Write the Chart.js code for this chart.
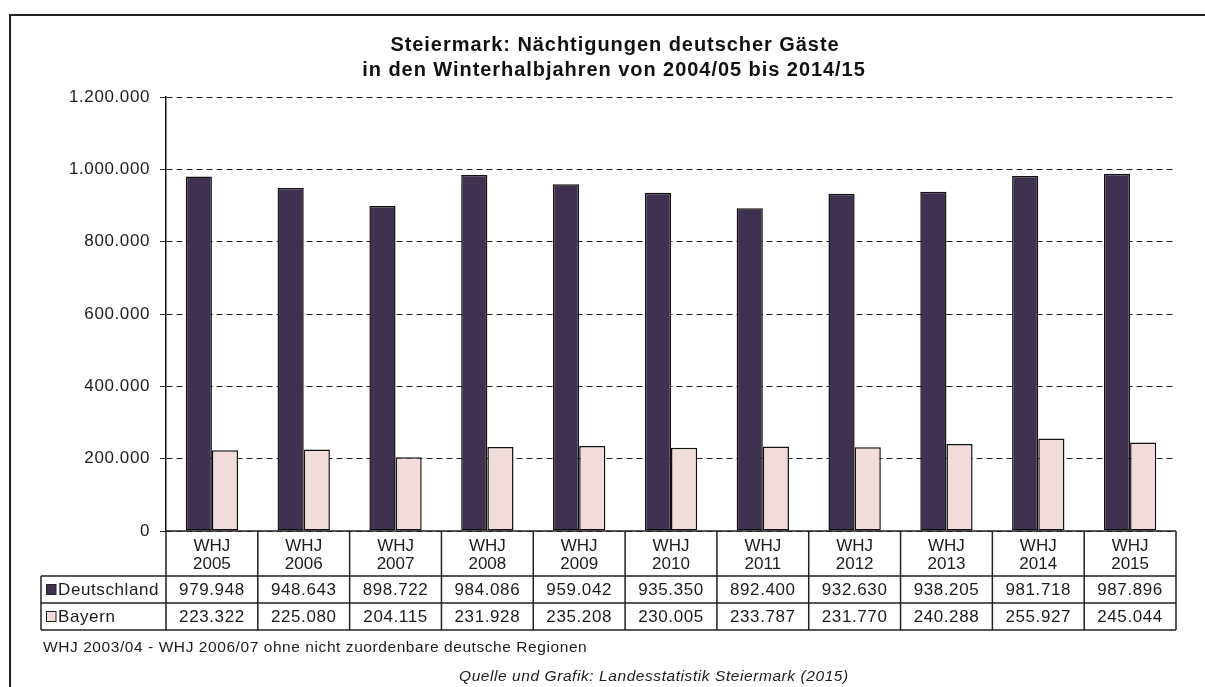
<!DOCTYPE html>
<html>
<head>
<meta charset="utf-8">
<script src="https://cdn.jsdelivr.net/npm/chart.js@4.4.1/dist/chart.umd.min.js"></script>
<style>
html,body{margin:0;padding:0;background:#fff;}
#wrap{width:1205px;height:687px;position:relative;}
</style>
</head>
<body>
<div id="wrap"><canvas id="c" width="1205" height="687"></canvas></div>
<script>
const categories = ["2005","2006","2007","2008","2009","2010","2011","2012","2013","2014","2015"];
const categoryPrefix = "WHJ";
const deutschland = [979948, 948643, 898722, 984086, 959042, 935350, 892400, 932630, 938205, 981718, 987896];
const bayern = [223322, 225080, 204115, 231928, 235208, 230005, 233787, 231770, 240288, 255927, 245044];
const seriesNames = ["Deutschland", "Bayern"];
const yTicks = [0, 200000, 400000, 600000, 800000, 1000000, 1200000];
const titleLines = ["Steiermark: Nächtigungen deutscher Gäste", "in den Winterhalbjahren von 2004/05 bis 2014/15"];
const footnote = "WHJ 2003/04 - WHJ 2006/07 ohne nicht zuordenbare deutsche Regionen";
const sourceText = "Quelle und Grafik: Landesstatistik Steiermark (2015)";

const colD = "#3f3150";
const colB = "#f2dcdb";
const ink = "#1c1c1c";
const FONT = "'Liberation Sans', Arial, sans-serif";

function fmt(v){
  return String(Math.round(v)).replace(/\B(?=(\d{3})+(?!\d))/g, ".");
}

const framePlugin = {
  id: 'frame',
  beforeDraw(chart){
    const ctx = chart.ctx;
    ctx.save();
    ctx.fillStyle = '#fff';
    ctx.fillRect(0,0,chart.width,chart.height);
    ctx.strokeStyle = '#222';
    ctx.lineWidth = 2;
    ctx.beginPath();
    ctx.moveTo(10, chart.height);
    ctx.lineTo(10, 15);
    ctx.lineTo(chart.width, 15);
    ctx.stroke();
    // title
    ctx.fillStyle = '#111';
    ctx.font = "bold 20px " + FONT;
    ctx.letterSpacing = "0.95px";
    ctx.textAlign = 'center';
    ctx.textBaseline = 'middle';
    ctx.fillText(titleLines[0], 615, 45);
    ctx.fillText(titleLines[1], 614, 70);
    ctx.restore();
    // spacing for axis tick labels drawn by Chart.js
    ctx.letterSpacing = "0.6px";
  }
};

const tablePlugin = {
  id: 'datatable',
  afterDraw(chart){
    const ctx = chart.ctx;
    const xs = chart.scales.x;
    const n = categories.length;
    const left = xs.left, right = xs.right;
    const cw = (right - left) / n;
    const y0 = chart.chartArea.bottom;
    const y1 = y0 + 45, y2 = y1 + 27, y3 = y2 + 27;
    const labelLeft = 41;
    ctx.save();
    ctx.strokeStyle = '#222';
    ctx.lineWidth = 1.5;
    ctx.setLineDash([]);
    ctx.beginPath();
    ctx.moveTo(left, y0); ctx.lineTo(right, y0);
    [y1, y2, y3].forEach(y => { ctx.moveTo(labelLeft, y); ctx.lineTo(right, y); });
    for (let i = 0; i <= n; i++) {
      const bx = left + i * cw;
      ctx.moveTo(bx, y0); ctx.lineTo(bx, y3);
    }
    ctx.moveTo(labelLeft, y1); ctx.lineTo(labelLeft, y3);
    ctx.stroke();

    ctx.fillStyle = ink;
    ctx.textAlign = 'center';
    ctx.textBaseline = 'middle';
    ctx.font = "17px " + FONT;
    ctx.letterSpacing = "0px";
    for (let i = 0; i < n; i++) {
      const cx = xs.getPixelForValue(i);
      ctx.fillText(categoryPrefix, cx, y0 + 15);
      ctx.fillText(categories[i], cx, y0 + 33);
    }
    ctx.font = "17px " + FONT;
    ctx.letterSpacing = "0.6px";
    for (let i = 0; i < n; i++) {
      const cx = xs.getPixelForValue(i);
      ctx.fillText(fmt(deutschland[i]), cx, (y1 + y2) / 2 + 1);
      ctx.fillText(fmt(bayern[i]), cx, (y2 + y3) / 2 + 1);
    }
    const rows = [[seriesNames[0], colD, (y1 + y2) / 2], [seriesNames[1], colB, (y2 + y3) / 2]];
    ctx.textAlign = 'left';
    rows.forEach(([name, col, cy]) => {
      ctx.fillStyle = col;
      ctx.fillRect(46.5, cy - 5, 9.5, 10);
      ctx.strokeStyle = '#222';
      ctx.lineWidth = 1;
      ctx.strokeRect(46.5, cy - 5, 9.5, 10);
      ctx.fillStyle = ink;
      ctx.fillText(name, 58, cy + 1);
    });

    ctx.letterSpacing = "0.57px";
    ctx.font = "15.5px " + FONT;
    ctx.fillStyle = ink;
    ctx.fillText(footnote, 43, 648);
    ctx.font = "italic 15.5px " + FONT;
    ctx.fillText(sourceText, 459, 677);
    ctx.restore();
  }
};

new Chart(document.getElementById('c'), {
  type: 'bar',
  data: {
    labels: categories.map(c => [categoryPrefix, c]),
    datasets: [
      { label: seriesNames[0], data: deutschland, backgroundColor: colD, borderColor: '#111', borderWidth: 1.5, borderSkipped: false },
      { label: seriesNames[1], data: bayern, backgroundColor: colB, borderColor: '#111', borderWidth: 1.5, borderSkipped: false }
    ]
  },
  options: {
    responsive: false,
    animation: false,
    devicePixelRatio: 1,
    layout: { padding: { top: 97, left: 0, right: 29, bottom: 156 } },
    datasets: { bar: { categoryPercentage: 0.57, barPercentage: 1.0 } },
    plugins: {
      legend: { display: false },
      tooltip: { enabled: false },
      title: { display: false }
    },
    scales: {
      x: { display: false },
      y: {
        min: 0, max: 1200000,
        afterFit(s){ s.width = 166; },
        afterBuildTicks(s){ s.ticks = yTicks.map(v => ({ value: v })); },
        ticks: {
          color: ink,
          padding: 10,
          font: { family: FONT, size: 17 },
          callback: v => fmt(v)
        },
        grid: {
          color: '#222',
          lineWidth: 1,
          tickLength: 6,
          tickBorderDash: [],
          tickColor: '#222',
          drawOnChartArea: true
        },
        border: { display: true, color: '#111', width: 1.5, dash: [6, 4] }
      }
    }
  },
  plugins: [framePlugin, tablePlugin]
});
</script>
</body>
</html>
